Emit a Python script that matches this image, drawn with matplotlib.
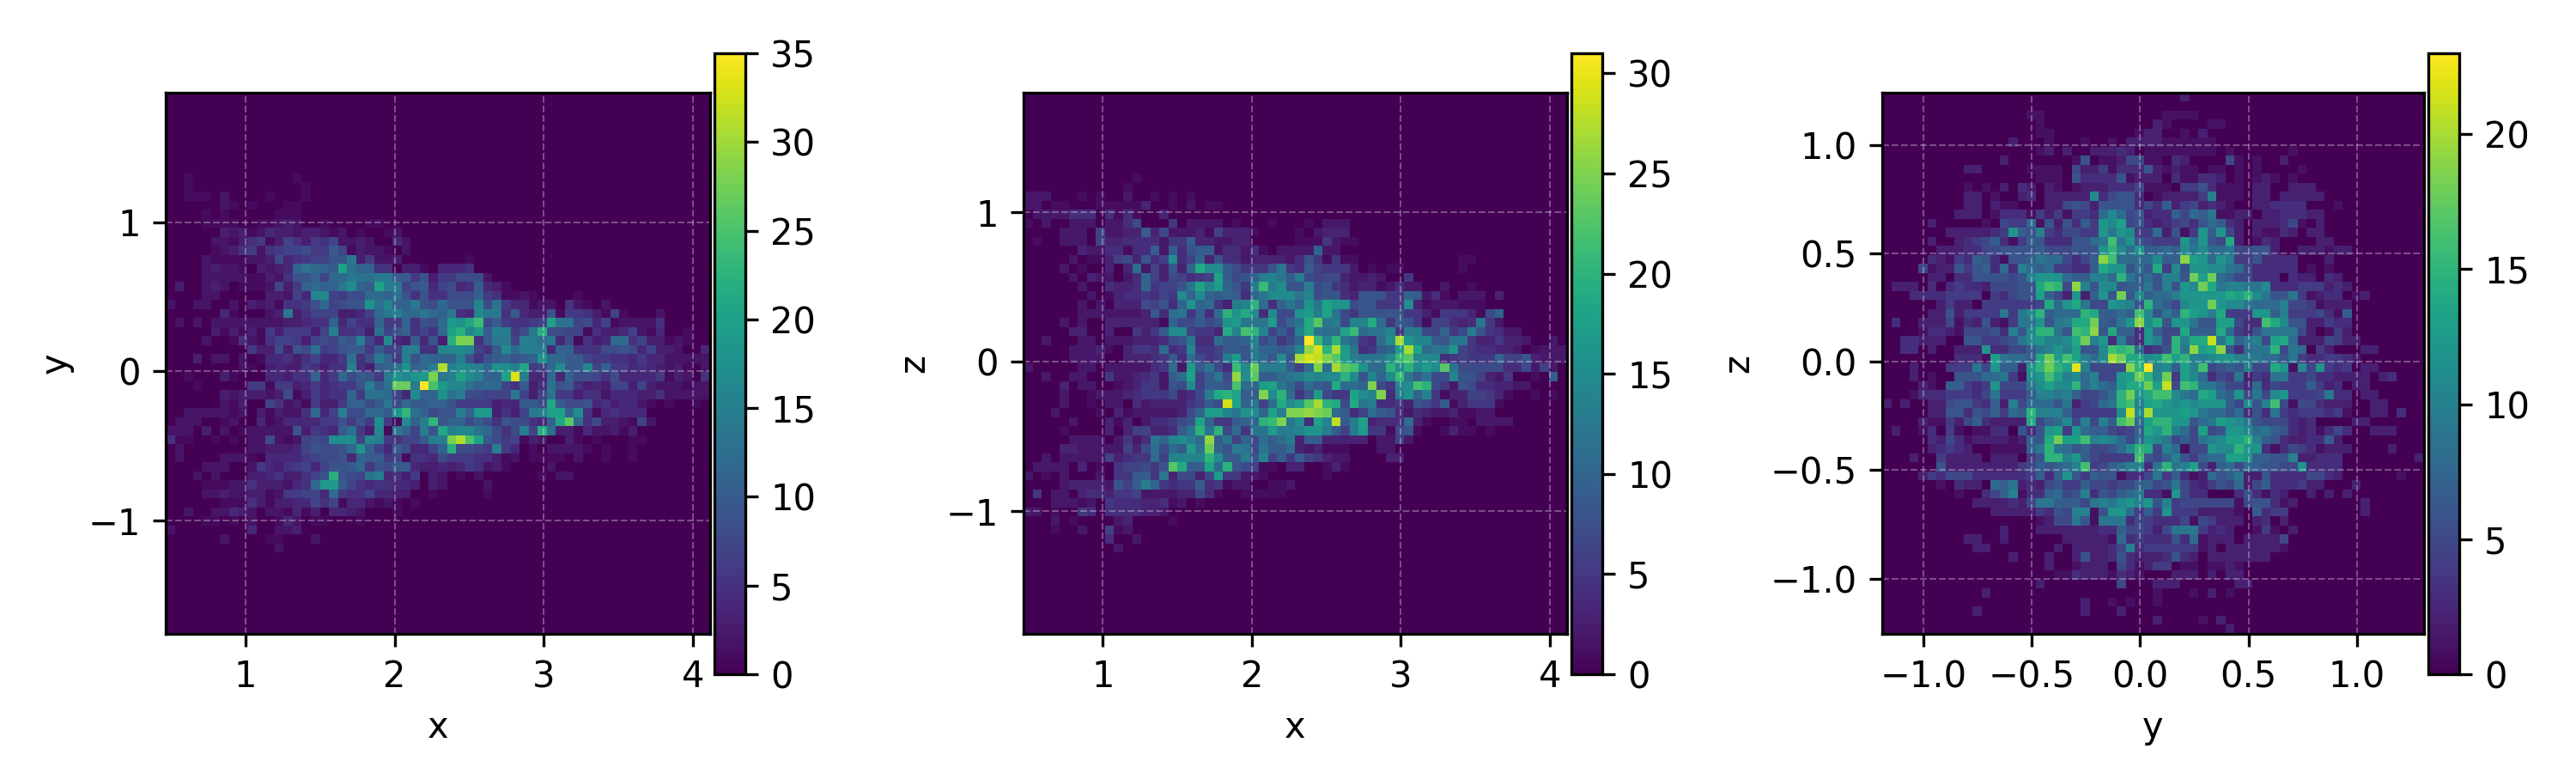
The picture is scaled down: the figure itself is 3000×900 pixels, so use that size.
import numpy as np
import matplotlib
matplotlib.use("Agg")
import matplotlib.pyplot as plt

# counts per bin, top row first, one base-36 digit per cell
xy_rows = [""] * 9 + [
    "00100000000000100000",
    "001000000000000100",
    "00111020000100010",
    "000000210100011",
    "000010100000111",
    "0000111100112320010000110",
    "00000032312433233212010012",
    "000002213561375365722320042",
    "000001235625677866a71322102",
    "00002111122384567799e3622300000001",
    "00002322103234bdcbakdbb55033104445",
    "0000222221132599b7cceddeeaa693668882",
    "030023201112736bcbbehbakfe79a47845a431",
    "0000220000033274gg7688ccbd95955888b65112100001",
    "20022002032315569c7899idgbbe98c999g8d644122052102",
    "0000004100023e357773347cefccecbe54gee5a4339166531710002",
    "020202222222233455b4755b66b598cjilo8a65567kdd7847122225",
    "000003131316366637f5563d79b575ckmgjaff68em8877153347214001",
    "0000200152157763787a9f74h43a493mss5aee7ffde481534cc5733121",
    "000000000633839" + "8d679aa6a77ff55gghg75ahcfff4bb555889847332004",
    "000302202014453574" + "46d58eb6f9cbbbf959ab9abiccaa7665546442222" + "2",
    "0000000021034336535" + "5f53abdibcfvfhgfcihfl67chaag7b66454323102",
    "00100031000443" + "55b46c8a96eigijsefkhfbbkxf44c4b887584444613205",
    "000100000661663464566" + "9fadrrezpjggdbcc75a35d9a534377373222122",
    "000000323332381364" + "55b6ddc74hbbidf88777e737d66355244433522222",
    "0000002130075231633" + "6bb8ae8caabb96666344aa8la889453442101001",
    "002222212031322" + "5c47f88ccaindb899fbjj3537efkkbh5145444",
    "0222001200412444466969" + "6h61hbfn9bb8a8598854blqc58332172",
    "222030201222229365" + "4ad63g1eb7f9lfggdc858f7md331422313",
    "511001010228212787hhh7gf6577affsvpka86713200310100011",
    "0200000002233347988" + "9cib74a8447bm8876f640102222101001",
    "0200002221044446788" + "94baa6715548666553120111102001001",
    "00002220026435674799ac698aa4334346523100002",
    "00020200033453357" + "9m987df45360320102000000102" + "2",
    "0000111225333245" + "cjja754554430320000" + "2",
    "000022322331266774c65574433001000001",
    "0000001115313344757144212101",
    "00200224320221413044320001",
    "0000110102001420110001",
    "200000000400223",
    "00000020000110002",
    "0000000000002",
]

xz_rows = [""] * 9 + [
    "0000000000001",
    "000000000001",
    "2220001010020010101",
    "2201100011111300102011",
    "0222244404141003",
    "102002220224700050222201000100010222",
    "000022206223393722231633310000102333",
    "0100222063344442559332233000001115211",
    "0000003224414492948992442410222 2a22".replace(" ", ""),
    "0000020113673846f46a384423333248515110000000000011",
    "000020100303b26383ajff975558c54965552010110000001",
    "000002032202 4a6376456i978adec9d767732232005".replace(" ", ""),
    "0000002004334a5668cieha85dldf88d785423312422002001",
    "00000002013445465fafa9a94acfffce7884388855a924102220 3".replace(" ", ""),
    "00000020203337684agab53dekb4acagcigg788555f31222111",
    "0000002222222394bc594bkgjf4f77ghdic75888885531555317a",
    "0000202003333331a77978ghccch7acjncd7eejb5985166434c52",
    "000003300300535 9ff6553jemke696ejcbbilbcce5dd76a57d85422".replace(" ", ""),
    "00200022022233347 8c44b99ae7957avlekca54bfrgee98cc533533200 2".replace(" ", ""),
    "0000022231035 54b45e556998daa9aeqtkrhc459ahribccg654433201222".replace(" ", ""),
    "000002222003334594b756dh8db8f8rtspnhdcccflnefe456555a6683222",
    "200000220222224 5b2h9c74lfoddd96bpbrnmgbbkfkfhfnc777774472620 8".replace(" ", ""),
    "00200220052234529bi69c7qfn99bcdfeffkf8eaflc9c77e88632500109",
    "00003022001235528 7f6998mbahica7b98jbbap75efmk75287443322".replace(" ", ""),
    "00002001222345557347djki99pfkb58h755ifep4dgae51336653100101",
    "0000200102204233335697tiac6bjfhnrkj7jcd44538759135551",
    "00020000103122222 37ahhecgfaidppqpob946b9842432231122".replace(" ", ""),
    "000002000313024457 8ia559aaklpcf4ies9di3444b31001102222".replace(" ", ""),
    "00001000030366334 9ckck7b5cchddeggd96dh55178100131101".replace(" ", ""),
    "00000222202524caefdbq9c6a7b9bd3993333302262",
    "00003322222637b7b9hcoa8dc7c99b32311100022",
    "00202222263455b6eeeekf99d8e695965322000033",
    "0222203010566758nj99ibk8761103300131",
    "2010200020559 95c37737h552210000001".replace(" ", ""),
    "0000233332869da545594512200112",
    "05022034435562222337410011111",
    "00022212054443341201",
    "2201005404444332",
    "00020100002300001",
    "000100200612",
    "0000000004002",
    "00000000002",
]

yz_rows = [
    "0" * 33 + "2",
    "",
    "0" * 16 + "11" + "0" * 13 + "1111",
    "0" * 17 + "1" + "0" * 12 + "21000011",
    "0" * 17 + "11" + "0" * 9 + "122" + "00102",
    "0" * 14 + "20001000100102222111111",
    "0" * 17 + "1202002223201111111101000000" + "1",
    "0" * 13 + "2" + "0" * 7 + "160112551103200005101002",
    "0" * 9 + "2200000" + "1111052241333621211011010100001",
    "0" * 17 + "11106333361222031133201012101",
    "0" * 9 + "101020320210122233351110446311102200222",
    "0" * 9 + "2201002302222 2b35663012222 4a111022022222".replace(" ", ""),
    "0" * 9 + "220211000225652666635372452321002233330001",
    "0" * 8 + "222013331424144388b85623375879112202233322".replace("88b8", "8b8"),
    "0" * 5 + "20000010544816263" + "74cbd56323453687320222" + "35102",
    "0" * 7 + "2222234c76a435544c9cb448261 4c7c5202113202 2".replace(" ", ""),
    "0" * 5 + "200234573147633366 89g9c65444c8c65e201320000 22".replace(" ", ""),
    "0" * 6 + "222335566667555666cfb8c7787b9b8895566200222122",
    "0" * 5 + "32143763166798853 57jg8888b77jdc8ca44633330002".replace(" ", ""),
    "00005122646738 3a87844337ecc686e4b6ccbb985333330101".replace(" ", ""),
    "00000220336666 56accc877aa8f9786aa6idi87553330322032".replace(" ", ""),
    "02220303433255566egf5ja6bb67796a6cbie9aa99b333444232",
    "00033334444043566d752c27c6i6b788accccced" "fb96694 1233012".replace(" ", ""),
    "00000024220444444 5e8ce955cba6f875bccicbb988 8a5541222".replace(" ", ""),
    "0000022624444949bf7888fe7787gb697fdcae44 4cc7a4445317".replace(" ", ""),
    "0300222513262149 9c69aeei769cjbe6cc966dd533geb6622433".replace(" ", ""),
    "000013321555 63a6bff96gfj6e773c755e777e84369 999520142".replace(" ", ""),
    "00332220066445 69bcaabeiac3a53ca5faeel9d79a5de82225422".replace(" ", ""),
    "00330200222c3355 79acad66bgfg8346f9jdej638 99f5980420002".replace(" ", "")[:58] + "2",
    "00000000333 1d9887eidgda8bkieebcgdfaabccaa98 86943344 32".replace(" ", ""),
    "00020004449 5c772cfifdma5555jfnab7dag5676a55ec1b5c434022".replace(" ", ""),
    "00020100666 889 41bcgdab8a55cdifbi4db835492439944533222 2023".replace(" ", ""),
    "00002107743 4c555 9bdbbf8a87ceeidl5gf99755383 54447 423022".replace(" ", ""),
    "00013334443 59444 7aa9a755 68ficeggb98ed87c59 5bc444593302 2".replace(" ", ""),
    "20200225664 372a5 8886924 589fgadecbcbccc75b 6ag515532 2200 22".replace(" ", ""),
    "00000226636 5748 7faaa744444 blbkcccdc98868 36394344 43410 0220 3".replace(" ", ""),
    "000021142573 2222e 578b5a5a7gi8dffcc689dcb96 555323 00002 2".replace(" ", ""),
    "0200130410113 3063 6cd4c877545 7ecfa85d56ccb897 63231 353 00222".replace(" ", ""),
    "00000325312 22212 76eiddgaba858 cb95 759abddfa7632233 72".replace(" ", ""),
    "00000234 32001111 79f98675 568bfe5a81 55cbbfcc313 5431222 00002".replace(" ", ""),
    "00020042222 0222 046ffa c75444 4g657a647 88ddc776 6a22333".replace(" ", "") + "0" * 8 + "2",
    "000000622222222 4576 78ag45 78aa39f9ad527 85876 655c3333".replace(" ", ""),
    "00002435553333 33 47 37c64 7661 3359 47312 86792 26333 35532".replace(" ", "") + "0" * 6 + "1",
    "000000103220 87923 25644 755 455775 6953 2465 8257333 422 0002".replace(" ", ""),
    "0" * 8 + "100357a13378 56a3 657893 31c5 33000 3631 3200 20202".replace(" ", ""),
    "0" * 10 + "22223259 977759 a9bcac 6a45 5555 51566 3120".replace(" ", "") + "0" * 6 + "2",
    "0" * 12 + "2222243 65aa16cc8 474c 444 22221 07344".replace(" ", "") + "0" * 8 + "2",
    "0" * 17 + "125596199935433351542220230" + "2",
    "0" * 13 + "2000222222 23375 542599942320014102".replace(" ", ""),
    "0" * 9 + "2200200000022222183433363812220222 25".replace(" ", ""),
    "0" * 10 + "22" + "0" * 7 + "20222235a3444444120222222" + "1",
    "0" * 14 + "2000200262236322 2363202222222".replace(" ", ""),
    "0" * 18 + "200122205312440110112 1".replace(" ", ""),
    "0" * 19 + "11322213210002220202 2".replace(" ", ""),
    "0" * 17 + "2" + "0" * 8 + "5000222" + "000000" + "22",
    "0" * 11 + "2" + "0" * 18 + "10001020" + "1",
    "0" * 22 + "2001010" + "01",
    "0" * 10 + "2" + "0" * 11 + "20002",
    "0" * 30 + "2000010" + "2",
    "0" * 38 + "2",
]

x_label = ["x", "x", "y"]
y_label = ["y", "z", "z"]
extents = [
    (0.464, 4.117, -1.76, 1.868),
    (0.467, 4.117, -1.82, 1.80),
    (-1.19, 1.31, -1.255, 1.24),
]
# x ticks, y ticks per panel
x_ticks = [[1, 2, 3, 4], [1, 2, 3, 4], [-1.0, -0.5, 0.0, 0.5, 1.0]]
y_ticks = [[-1, 0, 1], [-1, 0, 1], [-1.0, -0.5, 0.0, 0.5, 1.0]]


def to_counts(rows):
    rows = list(rows) + [""] * (60 - len(rows))
    return np.array([[int(ch, 36) for ch in r.ljust(60, "0")[:60]] for r in rows[:60]])


W, H = 3000, 900
# left, right of each heatmap and left, right of its colorbar, in pixels
ax_px = [(193, 827), (1192, 1825), (2192, 2823)]
cb_px = [(832, 868), (1830, 1866), (2828, 2864)]

fig = plt.figure(figsize=(10, 3), dpi=300)
for i, rows in enumerate([xy_rows, xz_rows, yz_rows]):
    counts = to_counts(rows)
    l, r = ax_px[i]
    ax = fig.add_axes([l / W, 1 - 738 / H, (r - l) / W, (738 - 108) / H])
    im = ax.imshow(counts, extent=extents[i], origin="upper", aspect="auto",
                   cmap="viridis", interpolation="nearest")
    ax.set_xticks(x_ticks[i])
    ax.set_yticks(y_ticks[i])
    ax.set_xlabel(x_label[i])
    ax.set_ylabel(y_label[i])
    ax.grid(True, color="white", linestyle="--", linewidth=0.5, alpha=0.3)
    cl, cr = cb_px[i]
    cax = fig.add_axes([cl / W, 1 - 785 / H, (cr - cl) / W, (785 - 62) / H])
    fig.colorbar(im, cax=cax)

fig.savefig("out.png", dpi=300)
